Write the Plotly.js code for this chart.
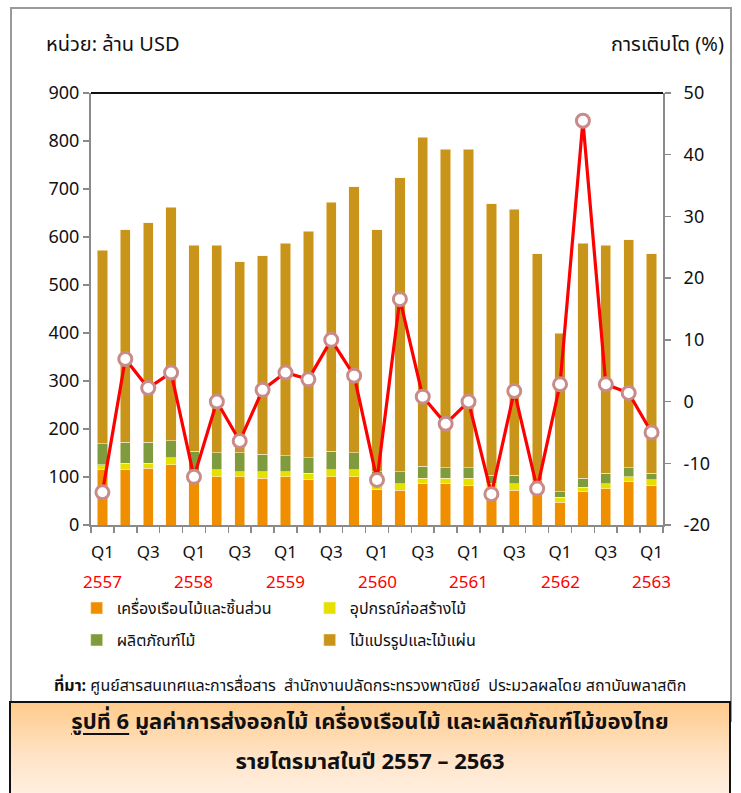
<!DOCTYPE html>
<html>
<head>
<meta charset="utf-8">
<script src="https://cdn.plot.ly/plotly-3.0.1.min.js"></script>
<style>
  html, body { margin: 0; padding: 0; background: #fff; }
  #frame { position: absolute; left: 10px; top: 7px; width: 722px; height: 715px; border: 2px solid #9a9a9a; box-sizing: border-box; }
  #chart { position: absolute; left: 0; top: 0; width: 741px; height: 793px; }
  #caption { position: absolute; left: 9px; top: 701px; width: 722px; height: 100px; box-sizing: border-box;
             border: 2px solid #111; background: linear-gradient(to bottom, #FFCB8C 0%, #FFE3C6 55%, #FFF1E4 100%);
             font-family: "Noto Sans Thai", "Noto Sans", "DejaVu Sans", sans-serif; font-weight: bold; font-size: 22px;
             color: #111; text-align: center; }
  #caption .l1 { margin-top: 5px; line-height: 30px; }
  #caption .l2 { margin-top: 10px; line-height: 30px; }
  #caption u { text-underline-offset: 4px; }
</style>
</head>
<body>
<div id="frame"></div>
<div id="chart"></div>
<div id="caption"><div class="l1"><u>รูปที่ 6</u> มูลค่าการส่งออกไม้ เครื่องเรือนไม้ และผลิตภัณฑ์ไม้ของไทย</div><div class="l2">รายไตรมาสในปี 2557 – 2563</div></div>
<script>
// ---- data ----
const quarters = [
  "Q1 2557","Q2 2557","Q3 2557","Q4 2557",
  "Q1 2558","Q2 2558","Q3 2558","Q4 2558",
  "Q1 2559","Q2 2559","Q3 2559","Q4 2559",
  "Q1 2560","Q2 2560","Q3 2560","Q4 2560",
  "Q1 2561","Q2 2561","Q3 2561","Q4 2561",
  "Q1 2562","Q2 2562","Q3 2562","Q4 2562",
  "Q1 2563"
];
const quarterTickText = ["Q1","","Q3","","Q1","","Q3","","Q1","","Q3","","Q1","","Q3","","Q1","","Q3","","Q1","","Q3","","Q1"];
const yearLabels = ["2557","2558","2559","2560","2561","2562","2563"];
const yearLabelAt = ["Q1 2557","Q1 2558","Q1 2559","Q1 2560","Q1 2561","Q1 2562","Q1 2563"];

const seriesNames = ["เครื่องเรือนไม้และชิ้นส่วน","อุปกรณ์ก่อสร้างไม้","ผลิตภัณฑ์ไม้","ไม้แปรรูปและไม้แผ่น"];
const furniture    = [115,115,118,126,100,101,101,97,101,94,101,101,73,72,86,86,83,75,72,68,47,69,76,90,83];
const construction = [11,14,11,14,12,14,10,14,10,14,14,14,12,14,11,11,14,12,14,10,11,10,10,11,11];
const woodProducts = [43,43,43,36,42,36,40,36,33,32,39,36,26,25,25,22,22,17,18,14,11,18,22,18,14];
const sawnWood     = [403,443,458,486,429,432,397,414,443,472,518,554,504,612,686,664,664,565,554,473,331,490,475,475,457];
const growth       = [-14.7,6.9,2.2,4.7,-12.2,0.0,-6.4,1.9,4.7,3.6,10.0,4.2,-12.7,16.6,0.8,-3.6,0.0,-15.0,1.7,-14.1,2.8,45.5,2.8,1.4,-5.0];

const colors = ["#EF8F00","#E6E000","#7E9C3E","#C8951A"];
const legendOf = ["legend","legend","legend2","legend2"];
const FONT = '"Noto Sans Thai", "Noto Sans", "DejaVu Sans", sans-serif';

const barSeries = [furniture, construction, woodProducts, sawnWood];
const traces = barSeries.map((vals, k) => ({
  type: "bar", x: quarters, y: vals, name: seriesNames[k], legend: legendOf[k],
  marker: { color: colors[k], line: { color: "rgba(255,240,215,0.7)", width: 0.8 } },
  hoverinfo: "x+y+name"
}));
traces.push({
  type: "scatter", mode: "lines+markers", x: quarters, y: growth, yaxis: "y2",
  name: "การเติบโต (%)", showlegend: false,
  line: { color: "#FF0000", width: 3.2 },
  marker: { symbol: "circle", size: 13, color: "#FFFFFF", line: { color: "#C98A8A", width: 3 } }
});

const annotations = yearLabels.map((t, i) => ({
  x: yearLabelAt[i], xref: "x", y: -0.134, yref: "paper", text: t, showarrow: false,
  font: { family: FONT, size: 17, color: "#FF0000" }, xanchor: "center", yanchor: "middle"
}));
annotations.push(
  { x: -0.082, xref: "paper", y: 1.112, yref: "paper", text: "หน่วย: ล้าน USD", showarrow: false,
    xanchor: "left", yanchor: "middle", font: { family: FONT, size: 20, color: "#111" } },
  { x: 1.11, xref: "paper", y: 1.112, yref: "paper", text: "การเติบโต (%)", showarrow: false,
    xanchor: "right", yanchor: "middle", font: { family: FONT, size: 20, color: "#111" } },
  { x: -0.068, xref: "paper", y: -0.372, yref: "paper",
    text: "<b>ที่มา:</b> ศูนย์สารสนเทศและการสื่อสาร  สำนักงานปลัดกระทรวงพาณิชย์  ประมวลผลโดย สถาบันพลาสติก",
    showarrow: false, xanchor: "left", yanchor: "middle", font: { family: FONT, size: 16, color: "#111" } }
);

const legendBase = {
  orientation: "h", x: -0.025, xanchor: "left", yanchor: "top",
  entrywidth: 188, entrywidthmode: "pixels", traceorder: "normal",
  font: { family: FONT, size: 16, color: "#111" }, bgcolor: "rgba(0,0,0,0)"
};

const layout = {
  width: 741, height: 793,
  margin: { l: 91, r: 78, t: 93, b: 268 },
  paper_bgcolor: "rgba(0,0,0,0)", plot_bgcolor: "rgba(0,0,0,0)",
  barmode: "stack", bargap: 0.55,
  font: { family: FONT, size: 17, color: "#111" },
  showlegend: true,
  legend: Object.assign({}, legendBase, { y: -0.153 }),
  legend2: Object.assign({}, legendBase, { y: -0.227 }),
  xaxis: {
    type: "category", categoryorder: "array", categoryarray: quarters, range: [-0.5, quarters.length - 0.5],
    tickmode: "array", tickvals: quarters, ticktext: quarterTickText,
    tickson: "boundaries", ticks: "outside", ticklen: 6, tickcolor: "#8a8a8a", tickwidth: 1.5,
    showline: true, linecolor: "#8a8a8a", linewidth: 2, showgrid: false, zeroline: false,
    tickfont: { family: FONT, size: 17, color: "#111" }, tickangle: 0, automargin: false,
    ticklabelstandoff: 11
  },
  yaxis: {
    range: [0, 900], dtick: 100, tick0: 0, ticks: "outside", ticklen: 6, tickcolor: "#8a8a8a", tickwidth: 1.5,
    showline: true, linecolor: "#8a8a8a", linewidth: 2, showgrid: false, zeroline: false,
    tickfont: { family: FONT, size: 18, color: "#111" }, automargin: false
  },
  yaxis2: {
    overlaying: "y", side: "right", range: [-20, 50], dtick: 10, tick0: -20,
    ticks: "outside", ticklen: 6, tickcolor: "#8a8a8a", tickwidth: 1.5,
    showline: true, linecolor: "#8a8a8a", linewidth: 2, showgrid: false, zeroline: false,
    tickfont: { family: FONT, size: 18, color: "#111" }, automargin: false,
    ticklabelstandoff: 9
  },
  shapes: [
    { type: "line", xref: "paper", yref: "paper", x0: 0, x1: 1, y0: 1, y1: 1, line: { color: "#111", width: 2 } }
  ],
  annotations: annotations
};

Plotly.newPlot("chart", traces, layout, { displayModeBar: false, staticPlot: true });
</script>
</body>
</html>
